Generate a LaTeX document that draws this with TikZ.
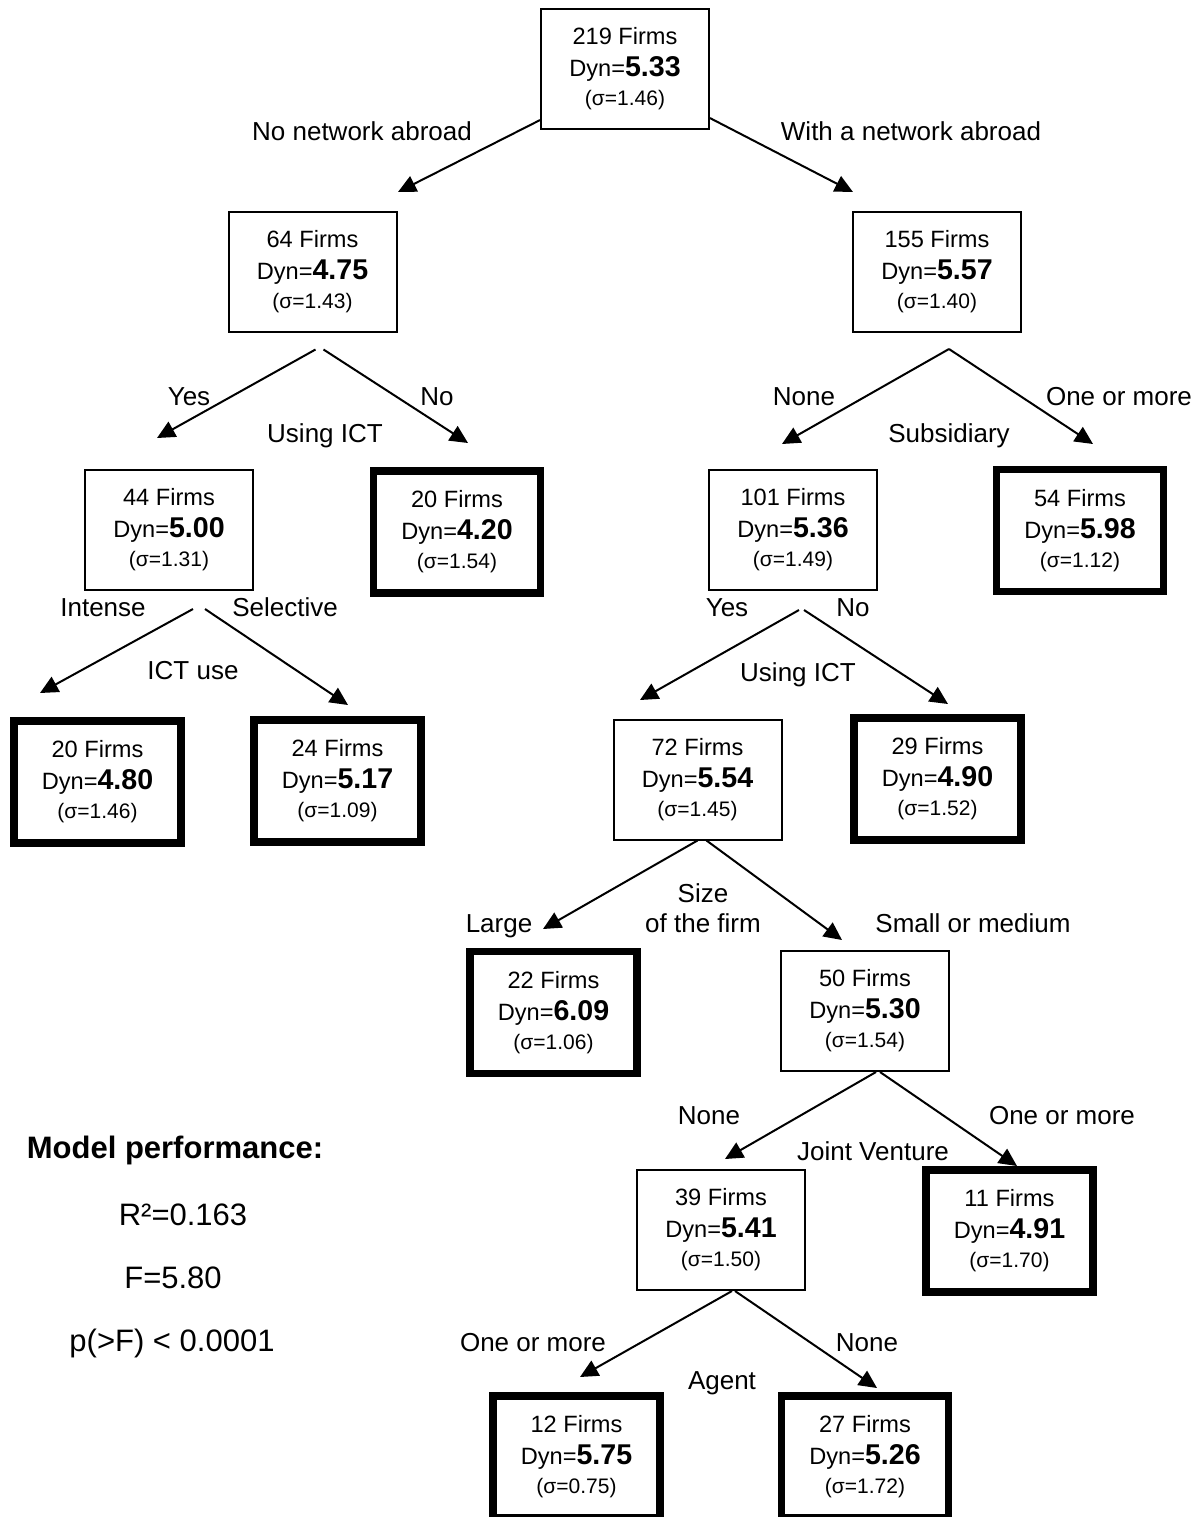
\documentclass[tikz,border=0pt]{standalone}
\usepackage{fontspec}
\setmainfont{Liberation Sans}
\usepackage{tikz}
\usetikzlibrary{arrows.meta, positioning}
\newcommand{\boxfont}{\fontsize{11.8}{16}\selectfont}
\newcommand{\lblfont}{\fontsize{13}{15}\selectfont}
\newcommand{\perffont}{\fontsize{15.5}{18}\selectfont}
\newcommand{\firms}[3]{#1 Firms\\Dyn={\fontsize{14.3}{16}\selectfont\bfseries #2}\\[-1.5pt]{\fontsize{10.5}{13}\selectfont(σ=#3)}}
\tikzstyle{split}=[rectangle, draw=black, line width=1pt, minimum width=84pt, minimum height=60pt, inner sep=0pt, align=center, font=\boxfont]
\tikzstyle{leaf}=[split, line width=3.8pt, minimum width=83.5pt, minimum height=61pt]
\tikzstyle{test}=[inner sep=0pt, font=\lblfont, text height=9.3pt, text depth=0pt]
\tikzstyle{perf}=[inner sep=0pt, font=\perffont, text height=11.1pt, text depth=0pt]
\tikzstyle{branch}=[line width=1pt, -{Triangle[length=9pt, width=8.5pt]}]

\begin{document}
\begin{tikzpicture}[x=0.5pt, y=-0.5pt]
        \useasboundingbox (0,0) rectangle (1200,1517);
          % split nodes and leaves
          \node[split] (root) at (625,69) {\firms{219}{5.33}{1.46}};
          \node[split] (n64) at (312.5,271.5) {\firms{64}{4.75}{1.43}};
          \node[split] (n155) at (937,272) {\firms{155}{5.57}{1.40}};
          \node[split] (n44) at (169,530) {\firms{44}{5.00}{1.31}};
          \node[leaf] (n20a) at (457,532) {\firms{20}{4.20}{1.54}};
          \node[split] (n101) at (793,530) {\firms{101}{5.36}{1.49}};
          \node[leaf] (n54) at (1080,530.5) {\firms{54}{5.98}{1.12}};
          \node[leaf] (n20b) at (97.5,782) {\firms{20}{4.80}{1.46}};
          \node[leaf] (n24) at (337.5,781) {\firms{24}{5.17}{1.09}};
          \node[split] (n72) at (697.5,779.5) {\firms{72}{5.54}{1.45}};
          \node[leaf] (n29) at (937.5,779) {\firms{29}{4.90}{1.52}};
          \node[leaf] (n22) at (553.5,1012.5) {\firms{22}{6.09}{1.06}};
          \node[split] (n50) at (865,1011) {\firms{50}{5.30}{1.54}};
          \node[split] (n39) at (721,1230) {\firms{39}{5.41}{1.50}};
          \node[leaf] (n11) at (1009.5,1231) {\firms{11}{4.91}{1.70}};
          \node[leaf] (n12) at (576.5,1457) {\firms{12}{5.75}{0.75}};
          \node[leaf] (n27) at (865,1457) {\firms{27}{5.26}{1.72}};

          % arrow tips
          \coordinate (t64) at (398,192);
          \coordinate (t155) at (853,192);
          \coordinate (t44) at (157,438);
          \coordinate (t20a) at (468,443);
          \coordinate (t101) at (782,444);
          \coordinate (t54) at (1093,444);
          \coordinate (t20b) at (40,693);
          \coordinate (t24) at (348,705);
          \coordinate (t72) at (640,700);
          \coordinate (t29) at (948,704);
          \coordinate (t22) at (543,929);
          \coordinate (t50) at (842,940);
          \coordinate (t39) at (725,1159);
          \coordinate (t11) at (1017,1166);
          \coordinate (t12) at (580,1377);
          \coordinate (t27) at (877,1388);

          \draw[branch] (root.211) -- (t64);
          \draw[branch] (root.330) -- (t155);
          \draw[branch] ([xshift=1.5pt,yshift=-8.5pt]n64.south) -- (t44);
          \draw[branch] ([xshift=5.5pt,yshift=-8.5pt]n64.south) -- (t20a);
          \draw[branch] ([xshift=6pt,yshift=-8pt]n155.south) -- (t101);
          \draw[branch] ([xshift=6pt,yshift=-8pt]n155.south) -- (t54);
          \draw[branch] ([xshift=12pt,yshift=-9pt]n44.south) -- (t20b);
          \draw[branch] ([xshift=18pt,yshift=-9pt]n44.south) -- (t24);
          \draw[branch] ([xshift=3pt,yshift=-9.5pt]n101.south) -- (t72);
          \draw[branch] ([xshift=5.5pt,yshift=-9.5pt]n101.south) -- (t29);
          \draw[branch] (n72.south) -- (t22);
          \draw[branch] ([xshift=4.5pt]n72.south) -- (t50);
          \draw[branch] ([xshift=5.5pt]n50.south) -- (t39);
          \draw[branch] ([xshift=7.5pt]n50.south) -- (t11);
          \draw[branch] ([xshift=5.5pt]n39.south) -- (t12);
          \draw[branch] ([xshift=7pt]n39.south) -- (t27);

          % branch labels
          \node[test] (l-nonet) at (362,131) {No network abroad};
          \node[test] (l-net) at (911,131) {With a network abroad};
          \node[test] (l-yes1) at (189,396) {Yes};
          \node[test] (l-no1) at (437,396) {No};
          \node[test] (q-ict1) at (325,433) {Using ICT};
          \node[test] (l-none1) at (804,396) {None};
          \node[test] (l-more1) at (1119,396) {One or more};
          \node[test] (q-sub) at (949,433) {Subsidiary};
          \node[test] (l-int) at (103,607) {Intense};
          \node[test] (l-sel) at (285,607) {Selective};
          \node[test] (q-use) at (193,670) {ICT use};
          \node[test] (l-yes2) at (727,607) {Yes};
          \node[test] (l-no2) at (853,607) {No};
          \node[test] (q-ict2) at (798,672) {Using ICT};
          \node[test] (l-large) at (499,923) {Large};
          \node[test] (q-size1) at (703,893) {Size};
          \node[test] (q-size2) at (703,923) {of the firm};
          \node[test] (l-small) at (973,923) {Small or medium};
          \node[test] (l-none2) at (709,1115) {None};
          \node[test] (l-more2) at (1062,1115) {One or more};
          \node[test] (q-jv) at (873,1151) {Joint Venture};
          \node[test] (l-more3) at (533,1342) {One or more};
          \node[test] (l-none3) at (867,1342) {None};
          \node[test] (q-agent) at (722,1380) {Agent};

          % model performance
          \node[perf, font=\perffont\bfseries] (perf) at (175,1147) {Model performance:};
          \node[perf] (r2) at (183,1214) {R²=0.163};
          \node[perf] (fstat) at (173,1277) {F=5.80};
          \node[perf] (pval) at (172,1340) {p(>F) < 0.0001};
        \end{tikzpicture}
\end{document}
